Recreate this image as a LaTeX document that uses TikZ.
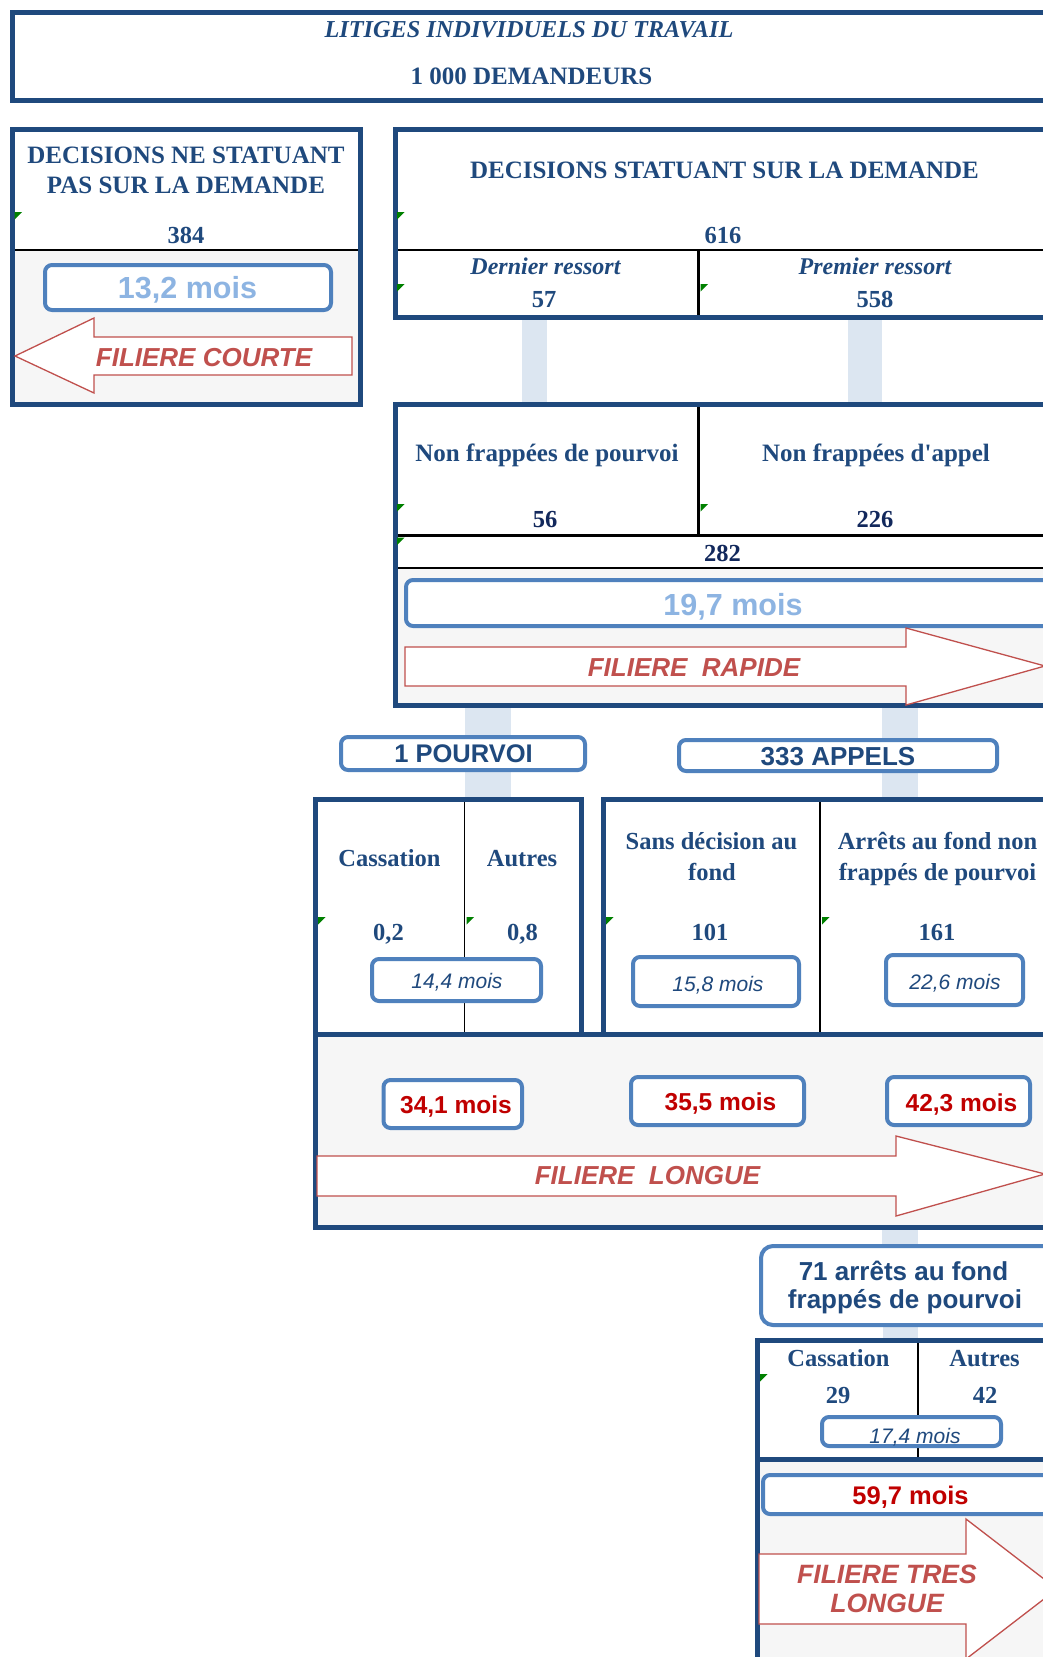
\documentclass[tikz,border=0pt]{standalone}
\usepackage{fontspec}
\setmainfont{Liberation Serif}
\setsansfont{Liberation Sans}
\definecolor{navy}{RGB}{31,73,125}
\definecolor{deepnavy}{RGB}{18,40,92}
\definecolor{midblue}{RGB}{79,129,189}
\definecolor{lightblue}{RGB}{141,180,226}
\definecolor{barblue}{RGB}{220,230,241}
\definecolor{arrowred}{RGB}{192,80,77}
\definecolor{strongred}{RGB}{192,0,0}
\definecolor{paleshade}{RGB}{246,246,246}
\definecolor{flaggreen}{RGB}{0,128,0}
\newcommand{\fsz}[1]{\fontsize{#1}{#1}\selectfont}
\tikzset{
  frame/.style={draw=navy, line width=5pt},
  cellline/.style={draw=black, line width=2.2pt},
  pill/.style={draw=midblue, line width=4pt, rounded corners=7pt, fill=white},
  bigpill/.style={draw=midblue, line width=4pt, rounded corners=12pt, fill=white},
  bar/.style={fill=barblue},
  shade/.style={fill=paleshade},
  flow/.style={draw=arrowred, line width=1.3pt, fill=white, line join=miter},
  txt/.style={anchor=base, inner sep=0pt, outer sep=0pt},
  head/.style={txt, text=navy, font=\bfseries\fsz{25}},
  headit/.style={txt, text=navy, font=\bfseries\itshape\fsz{24}},
  num/.style={txt, text=navy, font=\bfseries\fsz{24.5}},
  darknum/.style={txt, text=deepnavy, font=\bfseries\fsz{24.5}},
  softmonths/.style={txt, text=lightblue, font=\sffamily\bfseries\fsz{30.5}},
  smallmonths/.style={txt, text=navy, font=\sffamily\itshape\fsz{21}},
  redmonths/.style={txt, text=strongred, font=\sffamily\bfseries\fsz{24.5}},
  flowlabel/.style={txt, text=arrowred, font=\sffamily\bfseries\itshape\fsz{26}},
  tag/.style={txt, text=navy, font=\sffamily\bfseries\fsz{25.5}},
  flag/.style={fill=flaggreen}
}
\newcommand{\flagat}[2]{\fill[flag] (#1,#2) -- ++(7.5,0) -- ++(-7.5,7.5) -- cycle;}
\begin{document}
\begin{tikzpicture}[x=1pt,y=-1pt]
\useasboundingbox (0,0) rectangle (1043,1657);
\clip (0,0) rectangle (1043,1657);
\fill[white] (0,0) rectangle (1043,1657);

% ---------- connector bars ----------
\fill[bar] (522,316) rectangle (547,406);
\fill[bar] (848,316) rectangle (882,406);
\fill[bar] (465,704) rectangle (511,801);
\fill[bar] (882,704) rectangle (918,801);
\fill[bar] (882,1226) rectangle (918,1246);
\fill[bar] (883,1326) rectangle (918,1341);

% ---------- title ----------
\draw[frame, fill=white] (12.3,12.3) rectangle (1050,100.5);
\node[txt, text=navy, font=\bfseries\itshape\fsz{24.3}] (title) at (529,37.7) {LITIGES INDIVIDUELS DU TRAVAIL};
\node[txt, text=navy, font=\bfseries\fsz{25}] (total) at (531.5,84) {1 000 DEMANDEURS};

% ---------- decisions not ruling on the claim ----------
\fill[white] (12.3,129.5) rectangle (360.5,250);
\fill[shade] (12.3,250) rectangle (360.5,404.5);
\draw[cellline] (12.3,250) -- (360.5,250);
\draw[frame] (12.3,129.5) rectangle (360.5,404.5);
\node[head] (nsA) at (186,163) {DECISIONS NE STATUANT};
\node[head] (nsB) at (186,193) {PAS SUR LA DEMANDE};
\node[num] (ns) at (186,243) {384};
\flagat{14.5}{212}
\draw[pill] (45,265) rectangle (331,310);
\node[softmonths] (mshort) at (187.5,298) {13,2 mois};
\draw[flow] (15,356) -- (94,318) -- (94,337) -- (352,337) -- (352,375) -- (94,375) -- (94,393) -- cycle;
\node[flowlabel] (fshort) at (204,366) {FILIERE COURTE};

% ---------- decisions ruling on the claim ----------
\fill[white] (395,129.5) rectangle (1056,317.5);
\draw[cellline] (395,250) -- (1056,250);
\draw[cellline] (698.5,250) -- (698.5,317.5);
\draw[frame] (395,129.5) rectangle (1056,317.5);
\node[head] (sA) at (724.5,178) {DECISIONS STATUANT SUR LA DEMANDE};
\node[num] (s) at (723,243) {616};
\node[headit] (dr) at (545.5,274) {Dernier ressort};
\node[num] (drn) at (544,307) {57};
\node[headit] (pr) at (875,274) {Premier ressort};
\node[num] (prn) at (875,307) {558};
\flagat{397}{212}
\flagat{397}{284}
\flagat{700.5}{284}

% ---------- decisions not appealed ----------
\fill[white] (395,404.5) rectangle (1056,568);
\fill[shade] (395,568) rectangle (1056,705.5);
\draw[cellline] (698.5,404.5) -- (698.5,535.5);
\draw[cellline] (395,535.5) -- (1056,535.5);
\draw[cellline] (395,568) -- (1056,568);
\draw[frame] (395,404.5) rectangle (1056,705.5);
\node[head] (npv) at (547,461) {Non frappées de pourvoi};
\node[darknum] (npvn) at (545,527) {56};
\node[head] (nap) at (876,461) {Non frappées d\textquotesingle appel};
\node[darknum] (napn) at (875,527) {226};
\node[darknum] (nfn) at (722.5,561) {282};
\flagat{397}{504}
\flagat{700.5}{504}
\flagat{397}{537.5}
\draw[pill] (406,580) rectangle (1062,626);
\node[softmonths] (mfast) at (733,615) {19,7 mois};
\draw[flow] (405,647) -- (906,647) -- (906,628) -- (1045,666) -- (906,705) -- (906,686) -- (405,686) -- cycle;
\node[flowlabel] (ffast) at (694,676) {FILIERE\ \ RAPIDE};

% ---------- appeal tags ----------
\draw[pill] (341,737) rectangle (585,770);
\node[tag] (pv) at (463.5,762) {1 POURVOI};
\draw[pill] (679,740) rectangle (997,771);
\node[tag, font=\sffamily\bfseries\fsz{26}] (ap) at (838,765) {333 APPELS};

% ---------- appealed decisions ----------
\fill[white] (315,799.5) rectangle (581,1034.5);
\fill[white] (603,799.5) rectangle (1056,1034.5);
\fill[shade] (315,1034.5) rectangle (1056,1227.5);
\draw[cellline, line width=1.8pt] (464.5,799.5) -- (464.5,1034.5);
\draw[cellline, line width=1.8pt] (820,799.5) -- (820,1034.5);
\draw[frame] (315,799.5) rectangle (581,1034.5);
\draw[frame] (603,799.5) rectangle (1056,1034.5);
\draw[frame] (315,1034.5) rectangle (1056,1227.5);
\node[head, font=\bfseries\fsz{24.5}] (cas) at (389.5,866) {Cassation};
\node[head, font=\bfseries\fsz{24.5}] (aut) at (522,866) {Autres};
\node[num, font=\bfseries\fsz{24.5}] (casn) at (388.5,940) {0,2};
\node[num, font=\bfseries\fsz{24.5}] (autn) at (522.5,940) {0,8};
\node[head, font=\bfseries\fsz{24.5}] (sdA) at (711.5,849) {Sans décision au};
\node[head, font=\bfseries\fsz{24.5}] (sdB) at (712,880) {fond};
\node[num, font=\bfseries\fsz{24.5}] (sdn) at (710,940) {101};
\node[head, font=\bfseries\fsz{24.5}] (afA) at (937.5,849) {Arrêts au fond non};
\node[head, font=\bfseries\fsz{24.5}] (afB) at (937.5,880) {frappés de pourvoi};
\node[num, font=\bfseries\fsz{24.5}] (afn) at (937,940) {161};
\flagat{318}{917}
\flagat{466.5}{917}
\flagat{606}{917}
\flagat{822}{917}
\draw[pill] (372,959) rectangle (541,1001);
\node[smallmonths] (m1) at (457,988) {14,4 mois};
\draw[pill] (633,957) rectangle (799,1006);
\node[smallmonths] (m2) at (718,991) {15,8 mois};
\draw[pill] (886,955) rectangle (1023,1005);
\node[smallmonths] (m3) at (955,989) {22,6 mois};
\draw[pill] (383.5,1080) rectangle (522,1128);
\node[redmonths] (l1) at (456,1113) {34,1 mois};
\draw[pill] (631,1077) rectangle (804,1125);
\node[redmonths] (l2) at (720.5,1110) {35,5 mois};
\draw[pill] (887,1077) rectangle (1030,1125);
\node[redmonths] (l3) at (961.5,1111) {42,3 mois};
\draw[flow] (317,1156) -- (896,1156) -- (896,1136) -- (1045,1174) -- (896,1216) -- (896,1196) -- (317,1196) -- cycle;
\node[flowlabel] (flong) at (647.5,1184) {FILIERE\ \ LONGUE};

% ---------- appeal rulings taken to cassation ----------
\draw[bigpill] (761,1246) rectangle (1062,1325);
\node[txt, text=navy, font=\sffamily\bfseries\fsz{26}] (crA) at (903.5,1280) {71 arrêts au fond};
\node[txt, text=navy, font=\sffamily\bfseries\fsz{26}] (crB) at (905,1308) {frappés de pourvoi};

\fill[white] (757.5,1340) rectangle (1062,1459);
\fill[shade] (757.5,1459) rectangle (1062,1700);
\draw[cellline, line width=1.8pt] (918,1340) -- (918,1459);
\draw[frame] (757.5,1459) -- (1062,1459);
\draw[frame] (1062,1340) -- (757.5,1340) -- (757.5,1700);
\node[head, font=\bfseries\fsz{24.5}] (cas2) at (838.5,1366) {Cassation};
\node[head, font=\bfseries\fsz{24.5}] (aut2) at (984.5,1366) {Autres};
\node[num] (cas2n) at (838,1403) {29};
\node[num] (aut2n) at (985,1403) {42};
\flagat{760}{1374}
\draw[pill] (822,1417) rectangle (1001,1446);
\node[smallmonths] (m4) at (915,1443) {17,4 mois};
\draw[pill] (763,1475) rectangle (1062,1514);
\node[redmonths, font=\sffamily\bfseries\fsz{25.5}] (l4) at (910.5,1504) {59,7 mois};
\draw[flow] (759,1554) -- (966,1554) -- (966,1519) -- (1057,1589) -- (966,1659) -- (966,1624) -- (759,1624) -- cycle;
\node[flowlabel, font=\sffamily\bfseries\itshape\fsz{26.5}] (fvlA) at (887,1583) {FILIERE TRES};
\node[flowlabel, font=\sffamily\bfseries\itshape\fsz{26.5}] (fvlB) at (887,1612) {LONGUE};
\end{tikzpicture}
\end{document}
